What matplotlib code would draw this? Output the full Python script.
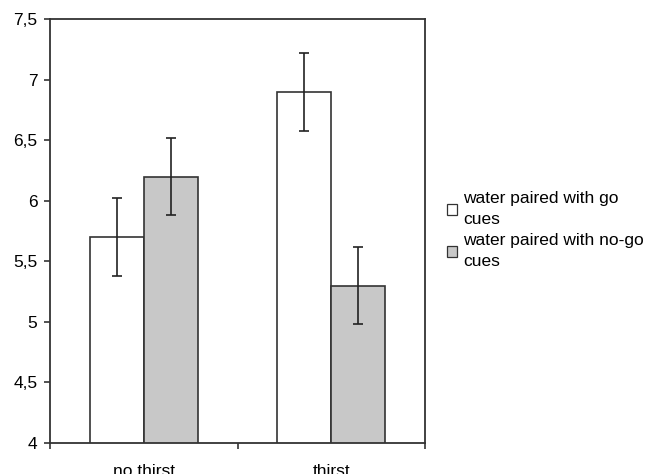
import matplotlib
matplotlib.use("Agg")
import matplotlib.pyplot as plt
import numpy as np
from matplotlib.patches import Patch
from matplotlib.ticker import FuncFormatter

plt.rcParams["font.family"] = ["Liberation Sans", "DejaVu Sans"]

categories = ["no thirst", "thirst"]
series_names = ["water paired with go\ncues", "water paired with no-go\ncues"]
go_values = [5.70, 6.90]
nogo_values = [6.20, 5.30]
go_err = [0.32, 0.32]
nogo_err = [0.32, 0.32]
colors = ["#FFFFFF", "#C8C8C8"]

fig = plt.figure(figsize=(6.58, 4.74), dpi=100)
ax = fig.add_axes([0.076, 0.0654, 0.570, 0.894])

x = np.arange(len(categories))
width = 0.287

ax.bar(x - width / 2, go_values, width, color=colors[0],
       edgecolor="#333333", linewidth=1.2, zorder=2)
ax.bar(x + width / 2, nogo_values, width, color=colors[1],
       edgecolor="#333333", linewidth=1.2, zorder=2)
ax.errorbar(x - width / 2, go_values, yerr=go_err, fmt="none", ecolor="#222222",
            elinewidth=1.2, capsize=3.5, capthick=1.2, zorder=3)
ax.errorbar(x + width / 2, nogo_values, yerr=nogo_err, fmt="none", ecolor="#222222",
            elinewidth=1.2, capsize=3.5, capthick=1.2, zorder=3)

ax.set_ylim(4, 7.5)
ax.set_xlim(-0.5, 1.5)
ax.set_yticks(np.arange(4, 7.51, 0.5))
ax.yaxis.set_major_formatter(FuncFormatter(lambda v, p: ("%g" % v).replace(".", ",")))
ax.set_xticks([-0.5, 0.5, 1.5])
ax.set_xticklabels([])
ax.set_xticks([0, 1], minor=True)
ax.set_xticklabels(categories, minor=True)
ax.tick_params(axis="x", which="minor", length=0, pad=15, labelsize=12.5)
ax.tick_params(axis="x", which="major", length=4, width=1.2, color="#333333")
ax.tick_params(axis="y", length=4, width=1.2, color="#333333", labelsize=12.5, pad=5)

for s in ax.spines.values():
    s.set_linewidth(1.3)
    s.set_color("#333333")

handles = [Patch(facecolor=c, edgecolor="#333333", linewidth=0.9) for c in colors]
leg = fig.legend(handles, series_names, loc="upper left", bbox_to_anchor=(0.666, 0.615),
                 frameon=False, fontsize=12.5, handlelength=0.6, handleheight=0.6,
                 handletextpad=0.35, labelspacing=0.35, borderpad=0)
for t in leg.get_texts():
    t.set_linespacing(1.5)

fig.savefig("out.png", dpi=100)
